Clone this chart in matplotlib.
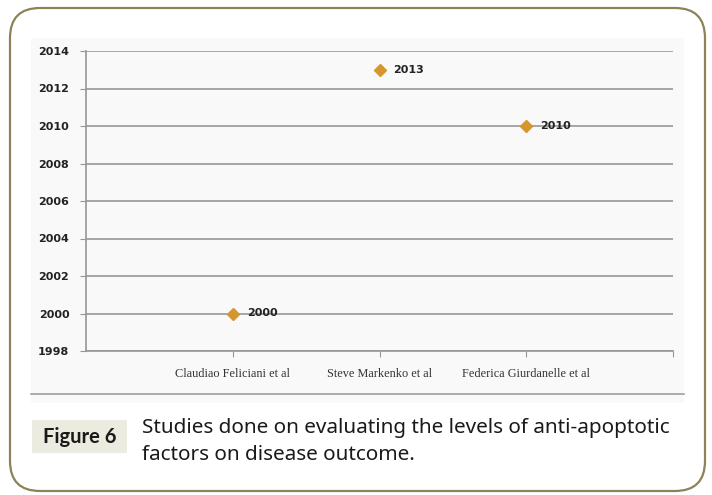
import matplotlib.pyplot as plt
from matplotlib.patches import FancyBboxPatch, Rectangle

# Studies and the year each one was published
estudios = ["Claudiao Feliciani et al", "Steve Markenko et al", "Federica Giurdanelle et al"]
anios = [2000, 2013, 2010]
posiciones = [1, 2, 3]

ticks_y = list(range(1998, 2015, 2))

color_marca = "#D4962E"
color_rejilla = "#979797"

fig = plt.figure(figsize=(7.12, 4.95), dpi=100)

# Capa de fondo en pixeles para el marco redondeado y la leyenda
fondo = fig.add_axes([0, 0, 1, 1])
fondo.set_xlim(0, 712)
fondo.set_ylim(495, 0)
fondo.axis("off")

marco = FancyBboxPatch((10, 8), 695, 483, boxstyle="round,pad=0,rounding_size=30",
                       facecolor="white", edgecolor="#8C8358", linewidth=1.6)
fondo.add_patch(marco)

# Recuadro gris claro donde va la grafica
fondo.add_patch(Rectangle((31, 38), 653, 365, facecolor="#F9F9F9", edgecolor="none"))
fondo.plot([31, 684], [394, 394], color="#A0A0A0", linewidth=1.2)

# Etiqueta "Figure 6" y texto del pie
fondo.add_patch(Rectangle((32, 420), 95, 33, facecolor="#EBEBDF", edgecolor="none"))
fondo.text(79.5, 437, "Figure 6", ha="center", va="center", fontsize=14.5,
           fontweight="bold", family="Lato", color="#1a1a1a")
fondo.text(142, 428, "Studies done on evaluating the levels of anti-apoptotic",
           ha="left", va="center", fontsize=14.9, family="Noto Sans", color="#1a1a1a")
fondo.text(142, 455, "factors on disease outcome.",
           ha="left", va="center", fontsize=14.9, family="Noto Sans", color="#1a1a1a")

# Grafica de dispersion
ax = fig.add_axes([86 / 712, 1 - 351 / 495, 587 / 712, 300 / 495])
ax.set_facecolor("none")
ax.set_xlim(0, 4)
ax.set_ylim(1998, 2014)
ax.set_yticks(ticks_y)
ax.set_yticklabels([str(t) for t in ticks_y], fontsize=8, fontweight="bold", color="#222222")
ax.set_xticks(posiciones + [4])
ax.set_xticklabels(estudios + [""], fontsize=8.8, family="Liberation Serif", color="#333333")
ax.grid(axis="y", color=color_rejilla, linewidth=1.2)
ax.set_axisbelow(True)
for lado in ["top", "right"]:
    ax.spines[lado].set_visible(False)
for lado in ["left", "bottom"]:
    ax.spines[lado].set_color(color_rejilla)
    ax.spines[lado].set_linewidth(1.2)
ax.tick_params(axis="y", length=4, color=color_rejilla, pad=8)
ax.tick_params(axis="x", length=4, color=color_rejilla, pad=8)

ax.plot(posiciones, anios, linestyle="none", marker="D", markersize=6,
        color=color_marca, zorder=3)
for x, y in zip(posiciones, anios):
    ax.annotate(str(y), (x, y), xytext=(10, 0), textcoords="offset points",
                ha="left", va="center", fontsize=8, fontweight="bold", color="#222222")

fig.savefig("out.png", dpi=100)
